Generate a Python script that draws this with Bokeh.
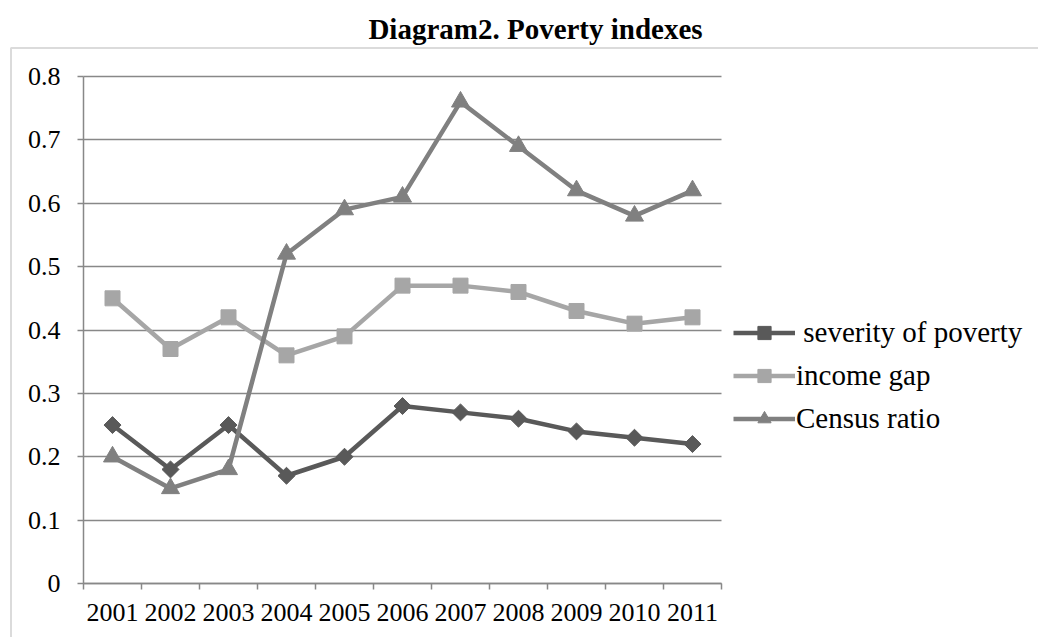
import math
from bokeh.plotting import figure
from bokeh.models import (Range1d, FixedTicker, NumeralTickFormatter, Legend, LegendItem,
                          Label, BoxAnnotation, ColumnDataSource)
from bokeh.embed import file_html
from bokeh.resources import INLINE

years = [2001, 2002, 2003, 2004, 2005, 2006, 2007, 2008, 2009, 2010, 2011]
severity = [0.25, 0.18, 0.25, 0.17, 0.20, 0.28, 0.27, 0.26, 0.24, 0.23, 0.22]
income_gap = [0.45, 0.37, 0.42, 0.36, 0.39, 0.47, 0.47, 0.46, 0.43, 0.41, 0.42]
census = [0.20, 0.15, 0.18, 0.52, 0.59, 0.61, 0.76, 0.69, 0.62, 0.58, 0.62]
yticks = [0, 0.1, 0.2, 0.3, 0.4, 0.5, 0.6, 0.7, 0.8]
title_text = "Diagram2. Poverty indexes"
names = [" severity of poverty", "income gap", "Census ratio"]

FONT = "Liberation Serif"
GRID = "#888888"

# canvas and plot-area placement (pixels from the top-left corner)
W, H = 1038, 637
PX_LEFT, PX_RIGHT, PX_TOP, PX_BOTTOM = 83, 721, 76, 583
X_LO, X_HI = years[0] - 0.5, years[-1] + 0.5
Y_LO, Y_HI = yticks[0], yticks[-1]
kx = (PX_RIGHT - PX_LEFT) / (X_HI - X_LO)
ky = (PX_BOTTOM - PX_TOP) / (Y_HI - Y_LO)
def dx(px):
    return X_LO + (px - PX_LEFT) / kx
def dy(py):
    return Y_LO + (PX_BOTTOM - py) / ky

p = figure(width=W, height=H, output_backend="svg", toolbar_location=None,
           x_range=Range1d(dx(0), dx(W)), y_range=Range1d(dy(H), dy(0)),
           min_border=0, min_border_left=0, min_border_right=0,
           min_border_top=0, min_border_bottom=0)
p.outline_line_color = None

# axes drawn inside the canvas at the plot-area edges
p.xaxis.fixed_location = Y_LO
p.xaxis.bounds = (X_LO, X_HI)
p.xaxis.ticker = FixedTicker(ticks=years, minor_ticks=[y - 0.5 for y in years] + [X_HI])
p.xaxis.major_tick_out = 0
p.xaxis.major_tick_in = 0
p.xaxis.minor_tick_out = 6
p.xaxis.minor_tick_in = 0
p.xaxis.minor_tick_line_color = GRID
p.xaxis.minor_tick_line_width = 1.5
p.xaxis.major_label_standoff = 14

p.yaxis.fixed_location = X_LO
p.yaxis.bounds = (Y_LO, Y_HI)
p.yaxis.ticker = FixedTicker(ticks=yticks)
p.yaxis.formatter = NumeralTickFormatter(format="0.[0]")
p.yaxis.major_tick_out = 6
p.yaxis.major_tick_in = 0
p.yaxis.minor_tick_line_color = None
p.yaxis.major_tick_line_color = GRID
p.yaxis.major_tick_line_width = 1.5
p.yaxis.major_label_standoff = 17

for ax in (p.xaxis, p.yaxis):
    ax.axis_line_color = GRID
    ax.axis_line_width = 1.5
    ax.major_label_text_font = FONT
    ax.major_label_text_font_size = "26px"
    ax.major_label_text_color = "black"

p.xgrid.grid_line_color = None
g = p.ygrid[0]
g.ticker = FixedTicker(ticks=yticks)
g.grid_line_color = GRID
g.grid_line_width = 1.5
if "cross_bounds" in g.properties():
    g.cross_bounds = (X_LO, X_HI)

# series
src = ColumnDataSource(dict(x=years, sev=severity, inc=income_gap, cen=census,
                            ang=[math.pi / 4] * len(years)))
r1 = p.line("x", "sev", source=src, line_color="#595959", line_width=4.5, line_join="round")
m1 = p.scatter("x", "sev", source=src, marker="square", angle="ang", size=12,
               fill_color="#595959", line_color="#595959")
r2 = p.line("x", "inc", source=src, line_color="#a6a6a6", line_width=4.5, line_join="round")
m2 = p.scatter("x", "inc", source=src, marker="square", size=15,
               fill_color="#a6a6a6", line_color="#a6a6a6")
r3 = p.line("x", "cen", source=src, line_color="#808080", line_width=4.5, line_join="round")
m3 = p.scatter("x", "cen", source=src, marker="triangle", size=18,
               fill_color="#808080", line_color="#808080")

ROW_H, ROW_GAP = 33, 10
legend = Legend(items=[LegendItem(label=names[0], renderers=[r1, m1]),
                       LegendItem(label=names[1], renderers=[r2, m2]),
                       LegendItem(label=names[2], renderers=[r3, m3])],
                location=(733, H - (418 + ROW_H / 2)))
legend.glyph_width = 62
legend.glyph_height = ROW_H
legend.label_height = ROW_H
legend.label_standoff = 1
legend.spacing = ROW_GAP
legend.padding = 0
legend.margin = 0
legend.border_line_alpha = 0
legend.background_fill_alpha = 0
legend.label_text_font = FONT
legend.label_text_font_size = "29px"
legend.label_text_color = "black"
p.add_layout(legend, "center")

# title
p.add_layout(Label(x=dx(535), y=dy(28), text=title_text, text_font=FONT,
                   text_font_size="29px", text_font_style="bold",
                   text_align="center", text_baseline="middle", text_color="black"))

# chart-area border (left and top; continues past the window)
p.add_layout(BoxAnnotation(left=dx(10.5), top=dy(47.5), right=dx(W + 50), bottom=dy(H + 50),
                           fill_alpha=0, line_color=GRID, line_width=2))

open("out.html", "w").write(file_html(p, INLINE))
